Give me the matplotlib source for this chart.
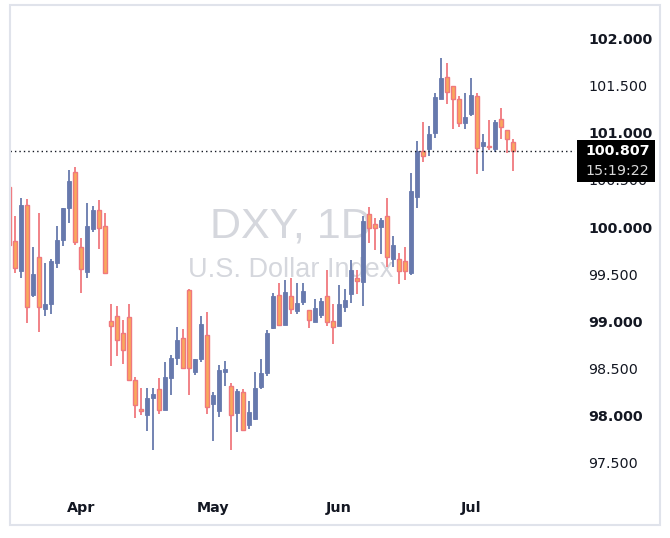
import matplotlib
matplotlib.use("Agg")
import matplotlib.pyplot as plt
from matplotlib.patches import Rectangle
import numpy as np

# ---- data (DXY daily candles) ----
opens = [100.428, 99.856, 99.537, 100.234, 99.280, 99.679, 99.131, 99.187, 99.622, 99.863,
         100.206, 100.581, 99.785, 99.527, 99.976, 100.181, 100.011, 99.001, 99.054, 98.873,
         99.043, 98.378, 98.071, 98.010, 98.191, 98.283, 98.063, 98.403, 98.615, 98.824,
         99.333, 98.466, 98.601, 98.855, 98.124, 98.053, 98.466, 98.315, 98.032, 98.248,
         97.904, 97.968, 98.307, 98.456, 98.927, 99.280, 98.965, 99.266, 99.113, 99.202,
         99.117, 98.990, 99.071, 99.266, 99.001, 98.951, 99.156, 99.287, 99.457, 99.421,
         100.135, 100.033, 100.004, 100.117, 99.661, 99.658, 99.640, 99.516, 100.322, 100.807,
         100.825, 100.994, 101.355, 101.588, 101.493, 101.355, 101.107, 101.202, 101.387, 100.863,
         100.849, 100.831, 101.143, 101.026, 100.899]
highs = [100.430, 100.117, 100.308, 100.301, 99.792, 100.152, 99.622, 99.661, 100.011, 100.206,
         100.605, 100.640, 99.881, 100.258, 100.223, 100.290, 100.152, 99.184, 99.163, 99.015,
         99.184, 98.413, 98.297, 98.297, 98.297, 98.400, 98.572, 98.643, 98.940, 98.919,
         99.344, 98.601, 99.057, 99.099, 98.251, 98.537, 98.580, 98.350, 98.286, 98.283,
         98.159, 98.463, 98.601, 98.909, 99.298, 99.404, 99.439, 99.463, 99.410, 99.404,
         99.117, 99.237, 99.251, 99.542, 99.184, 99.386, 99.340, 99.651, 99.548, 100.117,
         100.216, 100.096, 100.093, 100.311, 99.905, 99.722, 99.785, 100.570, 100.913, 101.117,
         101.069, 101.425, 101.796, 101.743, 101.493, 101.387, 101.419, 101.581, 101.419, 100.984,
         101.135, 101.135, 101.260, 101.026, 100.939]
lows = [99.810, 99.510, 99.463, 98.986, 99.262, 98.890, 99.060, 99.081, 99.569, 99.802,
        100.046, 99.810, 99.304, 99.457, 99.951, 99.764, 99.510, 98.530, 98.636, 98.551,
        98.378, 97.978, 98.010, 97.841, 97.639, 98.021, 98.063, 98.222, 98.537, 98.500,
        98.219, 98.434, 98.572, 98.018, 97.735, 97.989, 98.315, 97.639, 97.830, 97.845,
        97.862, 97.957, 98.280, 98.424, 98.916, 98.958, 98.965, 99.078, 99.075, 99.170,
        98.927, 98.990, 99.033, 98.951, 98.757, 98.951, 99.096, 99.192, 99.290, 99.166,
        99.828, 99.757, 99.714, 99.580, 99.580, 99.393, 99.439, 99.492, 100.206, 100.693,
        100.757, 100.948, 101.355, 101.302, 101.043, 101.064, 101.043, 101.181, 100.563, 100.598,
        100.821, 100.799, 100.937, 100.782, 100.598]
closes = [99.810, 99.563, 100.234, 99.156, 99.502, 99.149, 99.184, 99.640, 99.863, 100.199,
          100.492, 99.845, 99.552, 100.011, 100.181, 99.987, 99.510, 98.948, 98.799, 98.693,
          98.378, 98.110, 98.053, 98.187, 98.230, 98.057, 98.410, 98.612, 98.802, 98.509,
          98.502, 98.601, 98.972, 98.095, 98.219, 98.484, 98.495, 98.010, 98.262, 97.845,
          98.039, 98.293, 98.453, 98.877, 99.269, 98.958, 99.311, 99.128, 99.195, 99.322,
          99.011, 99.142, 99.216, 98.990, 98.940, 99.184, 99.230, 99.545, 99.425, 100.064,
          99.995, 99.987, 100.075, 99.679, 99.810, 99.532, 99.532, 100.383, 100.807, 100.754,
          100.984, 101.379, 101.581, 101.429, 101.355, 101.100, 101.167, 101.397, 100.835, 100.899,
          100.842, 101.114, 101.058, 100.931, 100.807]
month_labels = ["Apr", "May", "Jun", "Jul"]
month_index = [12, 34, 55, 77]
y_ticks = [97.5, 98.0, 98.5, 99.0, 99.5, 100.0, 100.5, 101.0, 101.5, 102.0]
last_price = 100.807
last_time = "15:19:22"

# ---- styling ----
UP_FILL = "#6779ad"
DN_FILL = "#f9a85c"
DN_EDGE = "#f0787e"
TXT = "#131722"

W, H = 670, 538
fig = plt.figure(figsize=(W / 100, H / 100), dpi=100)
fig.patch.set_facecolor("white")

# plot pane in pixels: x 10..575, y 10..493
L, R, T, B = 10, 575, 10, 493
ax = fig.add_axes([L / W, 1 - B / H, (R - L) / W, (B - T) / H])
ax.set_facecolor("white")

x = np.arange(len(opens))
o = np.array(opens); c = np.array(closes); h = np.array(highs); lo = np.array(lows)
up = c >= o

# wicks
ax.vlines(x[up], lo[up], h[up], color=UP_FILL, lw=1.3, zorder=2)
ax.vlines(x[~up], lo[~up], h[~up], color=DN_EDGE, lw=1.3, zorder=2)
# bodies
body_h = np.where(np.abs(c - o) < 0.008, 0.008, c - o)
ax.bar(x[up], body_h[up], bottom=o[up], width=0.78, color=UP_FILL,
       edgecolor=UP_FILL, linewidth=0.6, zorder=3)
ax.bar(x[~up], body_h[~up], bottom=o[~up], width=0.76, color=DN_FILL,
       edgecolor=DN_EDGE, linewidth=1.0, zorder=3)

# last price dotted line
ax.axhline(last_price, color="#131722", lw=1.0, linestyle=(0, (1, 2.2)), zorder=4)

ax.set_xlim((L - 9) / 6, (R - 9) / 6)
ax.set_ylim(102.408 - B / 94.3, 102.408 - T / 94.3)

for s in ax.spines.values():
    s.set_visible(False)

ax.yaxis.tick_right()
ax.set_yticks(y_ticks)
ylabels = ax.set_yticklabels([f"{v:.3f}" for v in y_ticks])
for v, lab in zip(y_ticks, ylabels):
    lab.set_fontweight("bold" if float(v).is_integer() else "normal")
ax.tick_params(axis="y", length=0, pad=9.5, labelsize=10.3, labelcolor=TXT)
ax.set_xticks(month_index)
ax.set_xticklabels(month_labels)
ax.tick_params(axis="x", length=0, pad=6, labelsize=10.3, labelcolor=TXT)
for lab in ax.get_xticklabels():
    lab.set_fontweight("bold")

# watermark
ax.text(0.497, 0.551, "DXY, 1D", transform=ax.transAxes, ha="center", va="center",
        fontsize=31, color="#d5d7dd", family="Liberation Sans", zorder=0.5)
ax.text(0.497, 0.462, "U.S. Dollar Index", transform=ax.transAxes, ha="center", va="center",
        fontsize=19.5, color="#d5d7dd", family="Liberation Sans", zorder=0.5)

# last price label box
ytr = ax.get_yaxis_transform()
px_per_unit = 94.3
box_top = last_price + 11 / px_per_unit
box_bot = last_price - 31 / px_per_unit
x0 = (577 - L) / (R - L)
x1 = (655 - L) / (R - L)
ax.add_patch(Rectangle((x0, box_bot), x1 - x0, box_top - box_bot, transform=ytr,
                       facecolor="black", edgecolor="none", clip_on=False, zorder=10))
tx = (585 - L) / (R - L)
ax.text(tx, last_price, f"{last_price:.3f}", transform=ytr, ha="left", va="center",
        color="white", fontsize=10.3, fontweight="bold", clip_on=False, zorder=11)
ax.text(tx, last_price - 20 / px_per_unit, last_time, transform=ytr, ha="left", va="center",
        color="#d8d8d8", fontsize=10.3, clip_on=False, zorder=11)

# outer border
fig.add_artist(Rectangle((10 / W, 1 - 525 / H), 650 / W, 520 / H, transform=fig.transFigure,
                         facecolor="none", edgecolor="#e0e3eb", lw=1.5))

fig.savefig("out.png", dpi=100, facecolor="white")
